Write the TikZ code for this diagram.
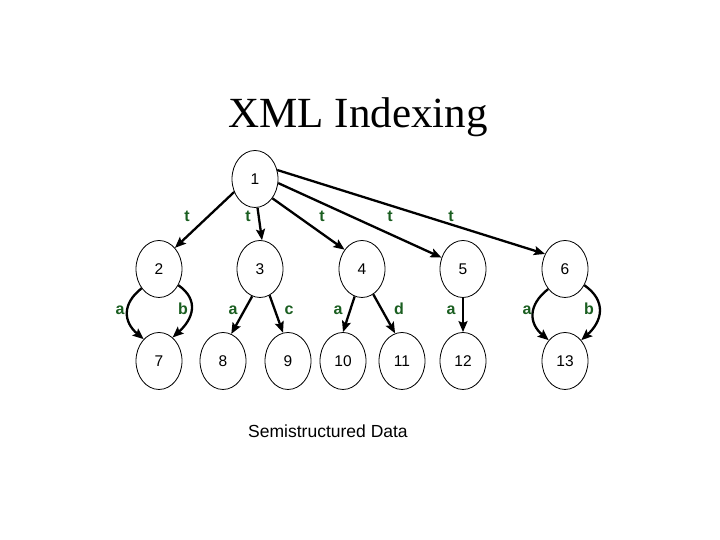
\documentclass[tikz,border=0pt]{standalone}
\usepackage{fontspec}
\setmainfont{Liberation Sans}
\newfontfamily\titlefont{Liberation Serif}
\usetikzlibrary{shapes.geometric,arrows.meta}
\definecolor{lblgreen}{RGB}{26,94,32}
\tikzset{
  vtx/.style={ellipse,draw,line width=0.8pt,minimum width=46pt,minimum height=57pt,inner sep=0pt,font=\fontsize{15.5}{15.5}\selectfont},
  edge/.style={line width=2.3pt,-{Stealth[length=11pt,width=9pt,inset=2pt]}},
  lbl/.style={text=lblgreen,font=\bfseries\fontsize{16}{16}\selectfont,inner sep=0pt,anchor=base}
}
\begin{document}
\begin{tikzpicture}[x=1pt,y=1pt]
\useasboundingbox (0,0) rectangle (720,540);
% title
\node[anchor=base,inner sep=0pt,font=\titlefont\fontsize{43}{43}\selectfont] (title) at (358,412) {XML Indexing};
\node[anchor=base,inner sep=0pt,font=\fontsize{17.5}{17.5}\selectfont] (caption) at (328,102) {Semistructured Data};
% nodes
\node[vtx] (n1) at (255,361) {1};
\node[vtx] (n2) at (159,271) {2};
\node[vtx] (n3) at (260,271) {3};
\node[vtx] (n4) at (362,271) {4};
\node[vtx] (n5) at (463,271) {5};
\node[vtx] (n6) at (565,271) {6};
\node[vtx] (n7) at (159,179) {7};
\node[vtx] (n8) at (223,179) {8};
\node[vtx] (n9) at (288,179) {9};
\node[vtx] (n10) at (343,179) {10};
\node[vtx] (n11) at (402,179) {11};
\node[vtx] (n12) at (463,179) {12};
\node[vtx] (n13) at (565,179) {13};
% top edges
\draw[edge] (n1.212) -- (n2.53);
\draw[edge] (n1.-85) -- (n3.86);
\draw[edge] (n1.-48) -- (n4.132);
\draw[edge] (n1.-10) -- (n5.152);
\draw[edge] (n1.22) -- (n6.143);
% second level edges
\draw[edge] (n2.228) to[out=218,in=140,looseness=1.3] (n7.125);
\draw[edge] (n2.-40) to[out=-35,in=42,looseness=1.3] (n7.60);
\draw[edge] (n3.254) -- (n8.73);
\draw[edge] (n3.-70) -- (n9.100);
\draw[edge] (n4.255) -- (n10.90);
\draw[edge] (n4.-66) -- (n11.104);
\draw[edge] (n5.south) -- (n12.north);
\draw[edge] (n6.230) to[out=218,in=140,looseness=1.3] (n13.128);
\draw[edge] (n6.-40) to[out=-35,in=42,looseness=1.3] (n13.52);
% labels
\node[lbl] (t1) at (187,318) {t};
\node[lbl] (t2) at (248,318) {t};
\node[lbl] (t3) at (322,318) {t};
\node[lbl] (t4) at (390,318) {t};
\node[lbl] (t5) at (451,318) {t};
\node[lbl] (l1) at (120,225) {a};
\node[lbl] (l2) at (183,225) {b};
\node[lbl] (l3) at (233,225) {a};
\node[lbl] (l4) at (289,225) {c};
\node[lbl] (l5) at (338,225) {a};
\node[lbl] (l6) at (399,225) {d};
\node[lbl] (l7) at (451,225) {a};
\node[lbl] (l8) at (527,225) {a};
\node[lbl] (l9) at (589,225) {b};
\end{tikzpicture}
\end{document}
